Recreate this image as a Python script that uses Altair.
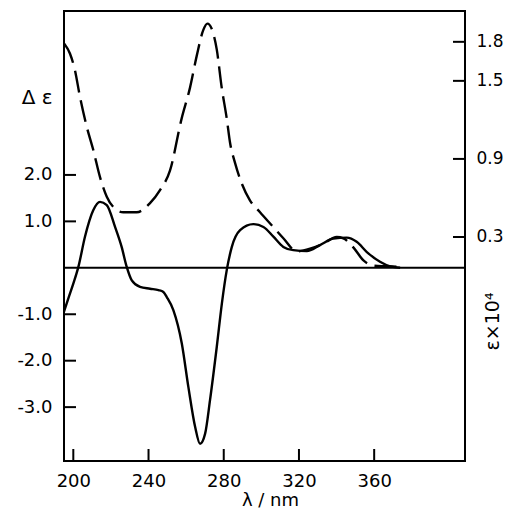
import altair as alt
import pandas as pd

# CD spectrum (solid line, left axis, Δε)
cd_wl = [195.0, 197.5, 200.0, 202.7, 206.2, 210.6, 214.2, 217.8, 222.2, 225.7,
         228.4, 231.1, 235.5, 240.8, 245.3, 247.9, 249.7, 253.2, 257.7, 261.2,
         264.8, 267.4, 270.1, 272.7, 276.3, 279.0, 281.6, 284.3, 288.7, 295.7,
         301.1, 306.4, 311.7, 317.0, 324.2, 331.2, 338.3, 345.4, 350.7, 356.1,
         363.1, 368.5, 373.8]
cd_val = [-0.95, -0.64, -0.34, 0.02, 0.67, 1.24, 1.42, 1.35, 0.88, 0.45,
          0.02, -0.27, -0.41, -0.45, -0.48, -0.52, -0.63, -0.91, -1.63, -2.57,
          -3.43, -3.79, -3.57, -2.85, -1.70, -0.77, -0.05, 0.45, 0.81, 0.94,
          0.88, 0.67, 0.45, 0.38, 0.36, 0.49, 0.63, 0.65, 0.56, 0.34,
          0.13, 0.03, 0.0]

# Absorption spectrum (dashed line, right axis, ε×10^4)
abs_wl = [195.0, 198.2, 200.9, 203.5, 207.1, 210.6, 214.2, 217.8, 221.3, 226.6,
          233.7, 240.8, 246.1, 251.4, 257.6, 262.1, 265.6, 269.1, 271.3, 273.6,
          276.3, 278.9, 281.6, 283.4, 286.0, 289.6, 294.0, 299.3, 305.5, 311.7,
          318.8, 325.9, 333.0, 340.1, 343.6, 348.9, 354.3, 359.6, 366.7, 373.8]
abs_val = [1.79, 1.71, 1.58, 1.38, 1.15, 0.97, 0.76, 0.61, 0.53, 0.49,
           0.49, 0.56, 0.66, 0.81, 1.21, 1.45, 1.69, 1.89, 1.94, 1.90,
           1.74, 1.45, 1.21, 1.02, 0.87, 0.71, 0.58, 0.49, 0.39, 0.29,
           0.19, 0.21, 0.25, 0.30, 0.29, 0.22, 0.12, 0.08, 0.075, 0.07]

x_ticks = [200, 240, 280, 320, 360]
left_ticks = [2.0, 1.0, -1.0, -2.0, -3.0]
right_ticks = [1.8, 1.5, 0.9, 0.3]

W, H = 401, 450
FONT = "DejaVu Sans"
TL = 12

cd_df = pd.DataFrame({"wl": cd_wl, "de": cd_val})
abs_df = pd.DataFrame({"wl": abs_wl, "eps": abs_val})

xs = alt.Scale(domain=[195.05, 408.3], nice=False, zero=False)
yl = alt.Scale(domain=[-4.16, 5.53], nice=False, zero=False)
yr = alt.Scale(domain=[-1.422, 2.037], nice=False, zero=False)

common = dict(ticks=False, domain=False, grid=False,
              labelFont=FONT, labelColor="black",
              titleFont=FONT, titleColor="black", titleFontWeight="normal")

x_axis = alt.Axis(values=x_ticks, labelPadding=11, labelFlush=False, labelFontSize=18,
                  title="λ / nm", titleFontSize=18, titleX=206, titleY=44,
                  titleAlign="center", titleBaseline="alphabetic", **common)
yl_axis = alt.Axis(values=left_ticks, labelPadding=12, format=".1f", labelFontSize=18,
                   labelExpr="replace(datum.label, '\u2212', '-')",
                   title="Δ ε", titleFontSize=20, titleAngle=0, titleX=-12, titleY=86,
                   titleAlign="right", titleBaseline="middle", **common)
yr_axis = alt.Axis(values=right_ticks, orient="right", labelPadding=11, format=".1f",
                   labelFontSize=17,
                   title="ε×10⁴", titleFontSize=19, titleAngle=270, titleX=27, titleY=310,
                   titleAlign="center", titleBaseline="middle", **common)

solid = alt.Chart(cd_df).mark_line(color="black", strokeWidth=2.4, interpolate="monotone", clip=True).encode(
    x=alt.X("wl:Q", scale=xs, axis=x_axis),
    y=alt.Y("de:Q", scale=yl, axis=yl_axis),
)
zero = alt.Chart(pd.DataFrame({"v": [0.0]})).mark_rule(color="black", strokeWidth=2).encode(
    y=alt.Y("v:Q", scale=yl, axis=None), x=alt.value(0), x2=alt.value(W)
)
lt = alt.Chart(pd.DataFrame({"v": left_ticks})).mark_rule(color="black", strokeWidth=2).encode(
    y=alt.Y("v:Q", scale=yl, axis=None), x=alt.value(0), x2=alt.value(TL)
)
bt = alt.Chart(pd.DataFrame({"wl": x_ticks})).mark_rule(color="black", strokeWidth=2).encode(
    x=alt.X("wl:Q", scale=xs, axis=x_axis), y=alt.value(H - TL), y2=alt.value(H)
)
dashed = alt.Chart(abs_df).mark_line(color="black", strokeWidth=2.4, strokeDash=[22, 8],
                                     interpolate="monotone", clip=True).encode(
    x=alt.X("wl:Q", scale=xs, axis=x_axis),
    y=alt.Y("eps:Q", scale=yr, axis=yr_axis),
)
rt = alt.Chart(pd.DataFrame({"v": right_ticks})).mark_rule(color="black", strokeWidth=2).encode(
    y=alt.Y("v:Q", scale=yr, axis=None), x=alt.value(W - TL), x2=alt.value(W)
)

chart = alt.layer(solid, zero, lt, bt, dashed, rt).resolve_scale(y="independent").properties(
    width=W, height=H,
    autosize="none",
    padding={"left": 56, "top": 3, "right": 39, "bottom": 50},
    background="white",
).configure_view(stroke="black", strokeWidth=2)

chart.save("out.html", embed_options={"renderer": "svg", "actions": False})
